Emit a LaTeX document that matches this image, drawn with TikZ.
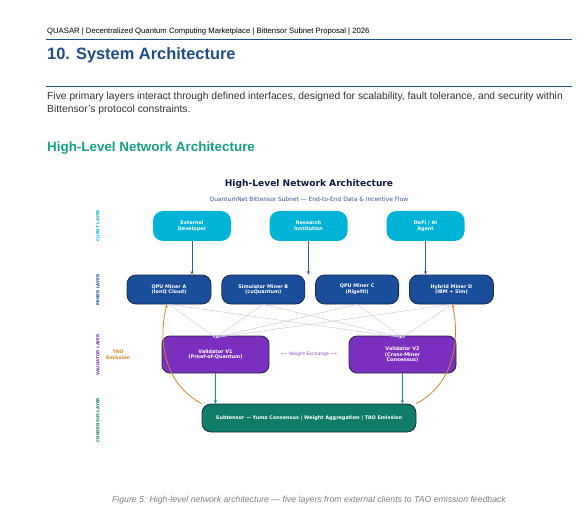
\documentclass[tikz,border=0pt]{standalone}
\usepackage{fontspec}
\setmainfont{Liberation Sans}
\newfontfamily\dejavu{DejaVu Sans}
\usetikzlibrary{positioning,arrows.meta}

\definecolor{rulecol}{HTML}{1F4E8C}
\definecolor{headteal}{HTML}{16A085}
\definecolor{navy}{HTML}{0D1B3E}
\definecolor{subblue}{HTML}{2F5597}
\definecolor{clientcol}{HTML}{00B4D8}
\definecolor{minercol}{HTML}{1A4E9A}
\definecolor{valcol}{HTML}{7B2FBE}
\definecolor{conscol}{HTML}{0E7C66}
\definecolor{edgecol}{HTML}{1B2A4A}
\definecolor{taocol}{HTML}{D4862A}
\definecolor{meshcol}{HTML}{C8D0DC}
\definecolor{downcol}{HTML}{2A5CA8}
\definecolor{vdowncol}{HTML}{1E9080}

\tikzset{
  box/.style={rectangle, rounded corners=9pt, text=white, align=center,
    font=\dejavu\bfseries\fontsize{4.9}{5.9}\selectfont, inner sep=0pt},
  client/.style={box, fill=clientcol, minimum width=78pt, minimum height=30pt, rounded corners=10pt},
  miner/.style={box, fill=minercol, draw=edgecol, line width=0.8pt, minimum width=83pt, minimum height=29pt},
  validator/.style={box, fill=valcol, draw=edgecol, line width=0.8pt, minimum width=107pt, minimum height=37pt, rounded corners=8pt},
  consensus/.style={box, fill=conscol, draw=edgecol, line width=0.8pt, minimum width=214pt, minimum height=28pt, rounded corners=9pt},
  layer/.style={rotate=90, font=\dejavu\bfseries\fontsize{4.1}{5}\selectfont},
  mesh/.style={meshcol, line width=0.5pt, -{Stealth[length=3pt,width=2.5pt]}},
}

\begin{document}
\begin{tikzpicture}[x=1pt, y=-1pt]
\useasboundingbox [fill=white] (0,0) rectangle (587,516);

% page header
\node [anchor=west, inner sep=0pt, font=\fontsize{7.7}{9}\selectfont] (hdr) at (47,32)
  {QUASAR | Decentralized Quantum Computing Marketplace | Bittensor Subnet Proposal | 2026};
\draw [rulecol, line width=0.8pt] (46,39) -- (572,39);
\node [anchor=west, inner sep=0pt, text=rulecol, font=\bfseries\fontsize{16.4}{19}\selectfont] (sec) at (47,55)
  {10. System Architecture};
\draw [rulecol, line width=0.8pt] (46,86) -- (572,86);
\node [anchor=north west, inner sep=0pt, text=black!80, align=left, font=\fontsize{10.3}{12.5}\selectfont] (para) at (47,92)
  {Five primary layers interact through defined interfaces, designed for scalability, fault tolerance, and security within\\
   Bittensor's protocol constraints.};
\node [anchor=west, inner sep=0pt, text=headteal, font=\bfseries\fontsize{13.4}{15}\selectfont] (sub) at (47,148)
  {High-Level Network Architecture};

% diagram titles
\node [text=navy, font=\dejavu\bfseries\fontsize{9.1}{10}\selectfont] (dtitle) at (309,184)
  {High-Level Network Architecture};
\node [text=subblue, font=\dejavu\fontsize{5.9}{7}\selectfont] (dsub) at (309,200)
  {QuantumNet Bittensor Subnet — End-to-End Data \& Incentive Flow};

% clients
\node [client] (ed) at (192,226) {External\\Developer};
\node [client] (ri) at (308.5,226) {Research\\Institution};
\node [client] (ai) at (425.5,226) {DeFi / AI\\Agent};

% miners
\node [miner, minimum width=84pt] (mA) at (169,289.5) {QPU Miner A\\(IonQ Cloud)};
\node [miner, right=10pt of mA] (mB) {Simulator Miner B\\(cuQuantum)};
\node [miner, right=10pt of mB] (mC) {QPU Miner C\\(Rigetti)};
\node [miner, minimum width=84pt, right=10pt of mC] (mD) {Hybrid Miner D\\(IBM + Sim)};

% validators
\node [validator] (v1) at (215.5,354.5) {Validator V1\\(Proof-of-Quantum)};
\node [validator] (v2) at (402.5,354.5) {Validator V2\\(Cross-Miner\\Consensus)};
\node [text=valcol!85, font=\dejavu\fontsize{4.6}{5}\selectfont] (wx) at (309,354)
  {⟵ Weight Exchange ⟶};

% consensus
\node [consensus] (sub) at (309,418)
  {Subtensor — Yuma Consensus | Weight Aggregation | TAO Emission};

% layer labels
\node [layer, text=clientcol] (lc) at (98,226) {CLIENT LAYER};
\node [layer, text=minercol] (lm) at (98,290) {MINER LAYER};
\node [layer, text=valcol] (lv) at (98,355) {VALIDATOR LAYER};
\node [layer, text=conscol] (lk) at (98,420) {CONSENSUS LAYER};
\node [text=taocol, align=center, font=\dejavu\bfseries\fontsize{4.8}{5.6}\selectfont] (tao) at (118,355)
  {TAO\\Emission};

% client requests
\draw [downcol, line width=0.7pt, -{Stealth[length=3.5pt,width=3pt]}] (ed.south) -- (ed.south |- mA.north);
\draw [downcol, line width=0.7pt, -{Stealth[length=3.5pt,width=3pt]}] (ri.south) -- (ri.south |- mA.north);
\draw [downcol, line width=0.7pt, -{Stealth[length=3.5pt,width=3pt]}] (ai.south) -- (ai.south |- mD.north);

% miner -> validator mesh
\foreach \m in {mA,mB,mC,mD} {
  \draw [mesh] (\m.south) -- ([yshift=-2pt]v1.north);
  \draw [mesh] (\m.south) -- ([yshift=-2pt]v2.north);
}

% validator -> consensus
\draw [vdowncol, line width=0.8pt, -{Stealth[length=3.5pt,width=3pt]}] (v1.south) -- (v1.south |- sub.north);
\draw [vdowncol, line width=0.8pt, -{Stealth[length=3.5pt,width=3pt]}] (v2.south) -- (v2.south |- sub.north);

% emission feedback
\draw [taocol, line width=0.8pt, -{Stealth[length=3.5pt,width=3pt]}]
  (sub.north west) .. controls (158,380) and (160,330) .. ([xshift=-2pt]mA.south);
\draw [taocol, line width=0.8pt, -{Stealth[length=3.5pt,width=3pt]}]
  (sub.north east) .. controls (460,380) and (458,330) .. ([xshift=1pt]mD.south);

% caption
\node [text=black!50, font=\itshape\fontsize{8.7}{10}\selectfont] (cap) at (309,500)
  {Figure 5: High-level network architecture — five layers from external clients to TAO emission feedback};
\end{tikzpicture}
\end{document}
